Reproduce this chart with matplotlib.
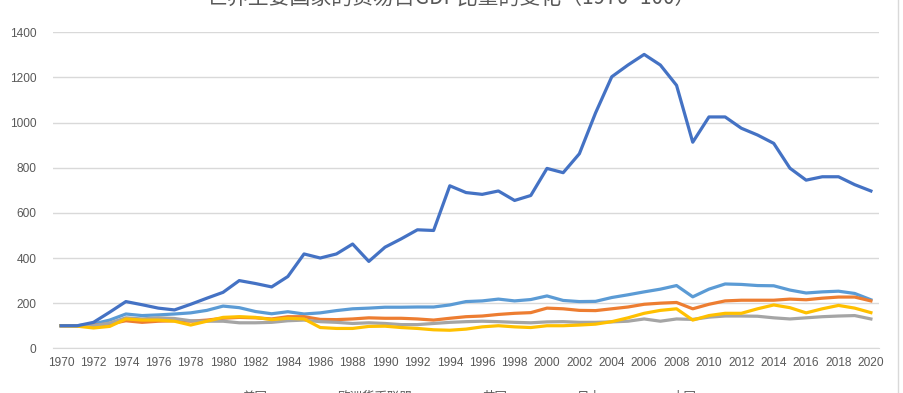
import numpy as np
import matplotlib.pyplot as plt
from matplotlib.lines import Line2D

years = list(range(1970, 2021))

china = [100, 100, 115, 160, 207, 193, 178, 170, 195, 222,
         248, 300, 287, 272, 318, 418, 400, 418, 462, 385,
         448, 485, 525, 522, 720, 690, 682, 697, 655, 677,
         797, 778, 862, 1043, 1203, 1255, 1302, 1255, 1165, 913,
         1025, 1025, 975, 945, 908, 798, 745, 760, 760, 725, 697]
usa = [100, 100, 108, 125, 152, 145, 148, 152, 157, 168,
       187, 180, 163, 153, 162, 152, 157, 167, 175, 178,
       182, 182, 183, 183, 192, 207, 210, 218, 210, 216,
       232, 212, 207, 208, 225, 237, 250, 262, 278, 228,
       262, 285, 283, 278, 277, 258, 245, 250, 253, 243, 215]
euro = [100, 100, 102, 108, 122, 115, 120, 122, 120, 125,
        133, 137, 135, 130, 140, 140, 128, 127, 130, 135,
        133, 133, 130, 125, 133, 140, 143, 150, 155, 158,
        178, 175, 168, 167, 175, 183, 195, 200, 203, 175,
        195, 210, 213, 213, 213, 218, 215, 222, 227, 227, 210]
uk = [100, 100, 100, 112, 135, 130, 135, 132, 122, 120,
      120, 113, 113, 115, 122, 125, 118, 115, 110, 113,
      110, 105, 105, 110, 115, 118, 120, 118, 115, 113,
      117, 118, 115, 115, 117, 120, 130, 120, 130, 128,
      138, 143, 143, 142, 135, 130, 135, 140, 143, 145, 130]
japan = [100, 98, 90, 97, 130, 125, 125, 120, 103, 120,
         137, 140, 137, 127, 133, 130, 92, 88, 88, 97,
         98, 92, 88, 82, 80, 85, 95, 100, 95, 92,
         100, 100, 103, 107, 118, 135, 155, 168, 175, 125,
         145, 155, 155, 175, 192, 180, 157, 175, 190, 178, 158]

names = ["美国", "欧洲货币联盟", "英国", "日本", "中国"]
series = [usa, euro, uk, japan, china]
colors = ["#5B9BD5", "#ED7D31", "#A5A5A5", "#FFC000", "#4472C4"]

plt.rcParams["font.family"] = ["Liberation Sans", "Noto Sans CJK SC"]
fig = plt.figure(figsize=(9.04, 3.93), dpi=100)
ax = fig.add_axes([53 / 904, 1 - 348.3 / 393, 826 / 904, 316 / 393])

x = np.arange(len(years))
for vals, name, c in zip(series, names, colors):
    ax.plot(x, vals, color=c, lw=2.3, label=name, solid_joinstyle="round")

ax.set_xlim(-0.5, len(years) - 0.5)
ax.set_ylim(0, 1400)
ax.set_yticks(range(0, 1401, 200))
ax.set_xticks(x[::2])
ax.set_xticklabels([str(y) for y in years[::2]])
ax.grid(axis="y", color="#D9D9D9", lw=1)
ax.set_axisbelow(True)
for s in ["top", "right", "left"]:
    ax.spines[s].set_visible(False)
ax.spines["bottom"].set_color("#D9D9D9")
ax.tick_params(length=0, colors="#595959", labelsize=8.6)
ax.tick_params(axis="x", pad=6)
ax.tick_params(axis="y", pad=12)

fig.text(0.5, 1 + 1 / 393, "世界主要国家的贸易占GDP比重的变化（1970=100）",
         ha="center", va="center", fontsize=15, color="#595959",
         family=["Noto Sans CJK SC", "DejaVu Sans"])

fig.legend(loc="center", bbox_to_anchor=(0.5, -4 / 393), ncol=5, frameon=False,
           labelcolor="#595959", handlelength=2.0, columnspacing=2.8,
           prop={"family": ["Noto Sans CJK SC", "DejaVu Sans"], "size": 9})

fig.add_artist(Line2D([898 / 904, 898 / 904], [0, 1], color="#D9D9D9", lw=1,
                      transform=fig.transFigure))

fig.savefig("out.png", dpi=100)
